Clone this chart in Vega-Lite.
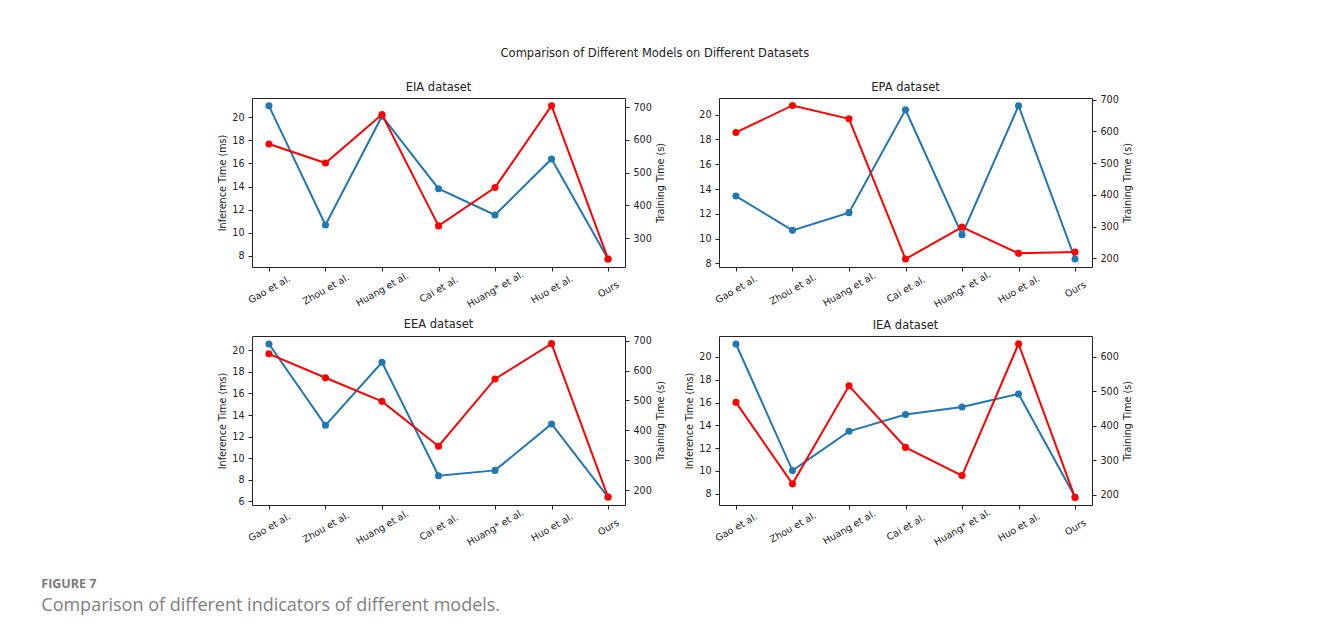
{
  "$schema": "https://vega.github.io/schema/vega-lite/v6.json",
  "padding": {"left": 41, "top": 47, "right": 5, "bottom": 5},
  "background": "white",
  "datasets": {
    "perf": [
      {"dataset": "EIA", "model": "Gao et al.", "inference": 21.0, "training": 587},
      {"dataset": "EIA", "model": "Zhou et al.", "inference": 10.66, "training": 529},
      {"dataset": "EIA", "model": "Huang et al.", "inference": 20.1, "training": 677},
      {"dataset": "EIA", "model": "Cai et al.", "inference": 13.81, "training": 337},
      {"dataset": "EIA", "model": "Huang* et al.", "inference": 11.53, "training": 454},
      {"dataset": "EIA", "model": "Huo et al.", "inference": 16.39, "training": 704},
      {"dataset": "EIA", "model": "Ours", "inference": 7.71, "training": 236},
      {"dataset": "EPA", "model": "Gao et al.", "inference": 13.43, "training": 597},
      {"dataset": "EPA", "model": "Zhou et al.", "inference": 10.66, "training": 682},
      {"dataset": "EPA", "model": "Huang et al.", "inference": 12.09, "training": 640},
      {"dataset": "EPA", "model": "Cai et al.", "inference": 20.40, "training": 198},
      {"dataset": "EPA", "model": "Huang* et al.", "inference": 10.31, "training": 299},
      {"dataset": "EPA", "model": "Huo et al.", "inference": 20.73, "training": 216},
      {"dataset": "EPA", "model": "Ours", "inference": 8.35, "training": 220},
      {"dataset": "EEA", "model": "Gao et al.", "inference": 20.59, "training": 656},
      {"dataset": "EEA", "model": "Zhou et al.", "inference": 13.05, "training": 576},
      {"dataset": "EEA", "model": "Huang et al.", "inference": 18.89, "training": 497},
      {"dataset": "EEA", "model": "Cai et al.", "inference": 8.38, "training": 347},
      {"dataset": "EEA", "model": "Huang* et al.", "inference": 8.87, "training": 572},
      {"dataset": "EEA", "model": "Huo et al.", "inference": 13.17, "training": 690},
      {"dataset": "EEA", "model": "Ours", "inference": 6.40, "training": 177},
      {"dataset": "IEA", "model": "Gao et al.", "inference": 21.14, "training": 468},
      {"dataset": "IEA", "model": "Zhou et al.", "inference": 10.02, "training": 231},
      {"dataset": "IEA", "model": "Huang et al.", "inference": 13.47, "training": 516},
      {"dataset": "IEA", "model": "Cai et al.", "inference": 14.94, "training": 337},
      {"dataset": "IEA", "model": "Huang* et al.", "inference": 15.61, "training": 255},
      {"dataset": "IEA", "model": "Huo et al.", "inference": 16.75, "training": 638},
      {"dataset": "IEA", "model": "Ours", "inference": 7.71, "training": 191}
    ]
  },
  "data": {"name": "perf"},
  "title": {
    "text": "FIGURE 7",
    "subtitle": "Comparison of different indicators of different models.",
    "orient": "bottom",
    "anchor": "start",
    "frame": "bounds",
    "dx": -176,
    "offset": 31,
    "font": "Open Sans",
    "fontSize": 12.5,
    "fontWeight": "bold",
    "color": "#7a7a7a",
    "subtitleFont": "Open Sans",
    "subtitleFontSize": 18,
    "subtitleColor": "#808080",
    "subtitlePadding": 6
  },
  "vconcat": [
    {
      "title": {"text": "Comparison of Different Models on Different Datasets", "fontSize": 11.5, "offset": 22, "anchor": "middle", "dx": -20},
      "columns": 2,
      "spacing": {"column": 18, "row": 8},
      "concat": [
        {
          "width": 373, "height": 169,
          "title": "EIA dataset",
          "transform": [{"filter": "datum.dataset === 'EIA'"}],
          "layer": [
            {
              "mark": {"type": "line", "color": "#1f77b4", "strokeWidth": 2, "point": {"filled": true, "size": 50, "color": "#1f77b4"}},
              "encoding": {
                "x": {"field": "model", "type": "nominal", "sort": ["Gao et al.", "Zhou et al.", "Huang et al.", "Cai et al.", "Huang* et al.", "Huo et al.", "Ours"], "scale": {"type": "point", "padding": 0.3}, "axis": {"title": null, "labelAngle": -30, "labelAlign": "center", "labelBaseline": "middle", "labelPadding": 18, "labelOverlap": false}},
                "y": {"field": "inference", "type": "quantitative", "scale": {"domain": [7.02, 21.68], "nice": false, "zero": false}, "axis": {"orient": "left", "title": "Inference Time (ms)", "values": [8, 10, 12, 14, 16, 18, 20]}}
              }
            },
            {
              "mark": {"type": "line", "color": "#ff0000", "strokeWidth": 2, "point": {"filled": true, "size": 50, "color": "#ff0000"}},
              "encoding": {
                "x": {"field": "model", "type": "nominal", "sort": ["Gao et al.", "Zhou et al.", "Huang et al.", "Cai et al.", "Huang* et al.", "Huo et al.", "Ours"]},
                "y": {"field": "training", "type": "quantitative", "scale": {"domain": [211.5, 727.5], "nice": false, "zero": false}, "axis": {"orient": "right", "title": "Training Time (s)", "titleAngle": 270, "titleBaseline": "top", "values": [300, 400, 500, 600, 700]}}
              }
            }
          ],
          "resolve": {"scale": {"y": "independent"}}
        },
        {
          "width": 373, "height": 169,
          "title": {"text": "EPA dataset", "offset": 1},
          "transform": [{"filter": "datum.dataset === 'EPA'"}],
          "layer": [
            {
              "mark": {"type": "line", "color": "#1f77b4", "strokeWidth": 2, "point": {"filled": true, "size": 50, "color": "#1f77b4"}},
              "encoding": {
                "x": {"field": "model", "type": "nominal", "sort": ["Gao et al.", "Zhou et al.", "Huang et al.", "Cai et al.", "Huang* et al.", "Huo et al.", "Ours"], "scale": {"type": "point", "padding": 0.3}, "axis": {"title": null, "labelAngle": -30, "labelAlign": "center", "labelBaseline": "middle", "labelPadding": 18, "labelOverlap": false}},
                "y": {"field": "inference", "type": "quantitative", "scale": {"domain": [7.70, 21.35], "nice": false, "zero": false}, "axis": {"orient": "left", "title": null, "values": [8, 10, 12, 14, 16, 18, 20]}}
              }
            },
            {
              "mark": {"type": "line", "color": "#ff0000", "strokeWidth": 2, "point": {"filled": true, "size": 50, "color": "#ff0000"}},
              "encoding": {
                "x": {"field": "model", "type": "nominal", "sort": ["Gao et al.", "Zhou et al.", "Huang et al.", "Cai et al.", "Huang* et al.", "Huo et al.", "Ours"]},
                "y": {"field": "training", "type": "quantitative", "scale": {"domain": [173, 705.5], "nice": false, "zero": false}, "axis": {"orient": "right", "title": "Training Time (s)", "titleAngle": 270, "titleBaseline": "top", "values": [200, 300, 400, 500, 600, 700]}}
              }
            }
          ],
          "resolve": {"scale": {"y": "independent"}}
        },
        {
          "width": 373, "height": 169,
          "title": "EEA dataset",
          "transform": [{"filter": "datum.dataset === 'EEA'"}],
          "layer": [
            {
              "mark": {"type": "line", "color": "#1f77b4", "strokeWidth": 2, "point": {"filled": true, "size": 50, "color": "#1f77b4"}},
              "encoding": {
                "x": {"field": "model", "type": "nominal", "sort": ["Gao et al.", "Zhou et al.", "Huang et al.", "Cai et al.", "Huang* et al.", "Huo et al.", "Ours"], "scale": {"type": "point", "padding": 0.3}, "axis": {"title": null, "labelAngle": -30, "labelAlign": "center", "labelBaseline": "middle", "labelPadding": 18, "labelOverlap": false}},
                "y": {"field": "inference", "type": "quantitative", "scale": {"domain": [5.66, 21.33], "nice": false, "zero": false}, "axis": {"orient": "left", "title": "Inference Time (ms)", "values": [6, 8, 10, 12, 14, 16, 18, 20]}}
              }
            },
            {
              "mark": {"type": "line", "color": "#ff0000", "strokeWidth": 2, "point": {"filled": true, "size": 50, "color": "#ff0000"}},
              "encoding": {
                "x": {"field": "model", "type": "nominal", "sort": ["Gao et al.", "Zhou et al.", "Huang et al.", "Cai et al.", "Huang* et al.", "Huo et al.", "Ours"]},
                "y": {"field": "training", "type": "quantitative", "scale": {"domain": [150.5, 715.6], "nice": false, "zero": false}, "axis": {"orient": "right", "title": "Training Time (s)", "titleAngle": 270, "titleBaseline": "top", "values": [200, 300, 400, 500, 600, 700]}}
              }
            }
          ],
          "resolve": {"scale": {"y": "independent"}}
        },
        {
          "width": 373, "height": 169,
          "title": "IEA dataset",
          "transform": [{"filter": "datum.dataset === 'IEA'"}],
          "layer": [
            {
              "mark": {"type": "line", "color": "#1f77b4", "strokeWidth": 2, "point": {"filled": true, "size": 50, "color": "#1f77b4"}},
              "encoding": {
                "x": {"field": "model", "type": "nominal", "sort": ["Gao et al.", "Zhou et al.", "Huang et al.", "Cai et al.", "Huang* et al.", "Huo et al.", "Ours"], "scale": {"type": "point", "padding": 0.3}, "axis": {"title": null, "labelAngle": -30, "labelAlign": "center", "labelBaseline": "middle", "labelPadding": 18, "labelOverlap": false}},
                "y": {"field": "inference", "type": "quantitative", "scale": {"domain": [7.0, 21.84], "nice": false, "zero": false}, "axis": {"orient": "left", "title": "Inference Time (ms)", "values": [8, 10, 12, 14, 16, 18, 20]}}
              }
            },
            {
              "mark": {"type": "line", "color": "#ff0000", "strokeWidth": 2, "point": {"filled": true, "size": 50, "color": "#ff0000"}},
              "encoding": {
                "x": {"field": "model", "type": "nominal", "sort": ["Gao et al.", "Zhou et al.", "Huang et al.", "Cai et al.", "Huang* et al.", "Huo et al.", "Ours"]},
                "y": {"field": "training", "type": "quantitative", "scale": {"domain": [169.5, 661], "nice": false, "zero": false}, "axis": {"orient": "right", "title": "Training Time (s)", "titleAngle": 270, "titleBaseline": "top", "values": [200, 300, 400, 500, 600]}}
              }
            }
          ],
          "resolve": {"scale": {"y": "independent"}}
        }
      ]
    }
  ],
  "config": {
    "font": "DejaVu Sans",
    "view": {"stroke": "#222", "strokeWidth": 1},
    "axis": {"labelFont": "DejaVu Sans", "labelFontSize": 9.6, "labelColor": "#222", "titleFont": "DejaVu Sans", "titleFontSize": 9.6, "titleFontWeight": "normal", "titleColor": "#222", "tickColor": "#222", "tickSize": 4, "domain": false, "grid": false, "labelPadding": 4, "titlePadding": 4},
    "title": {"font": "DejaVu Sans", "fontSize": 11.5, "fontWeight": "normal", "color": "#222", "offset": 5}
  }
}
